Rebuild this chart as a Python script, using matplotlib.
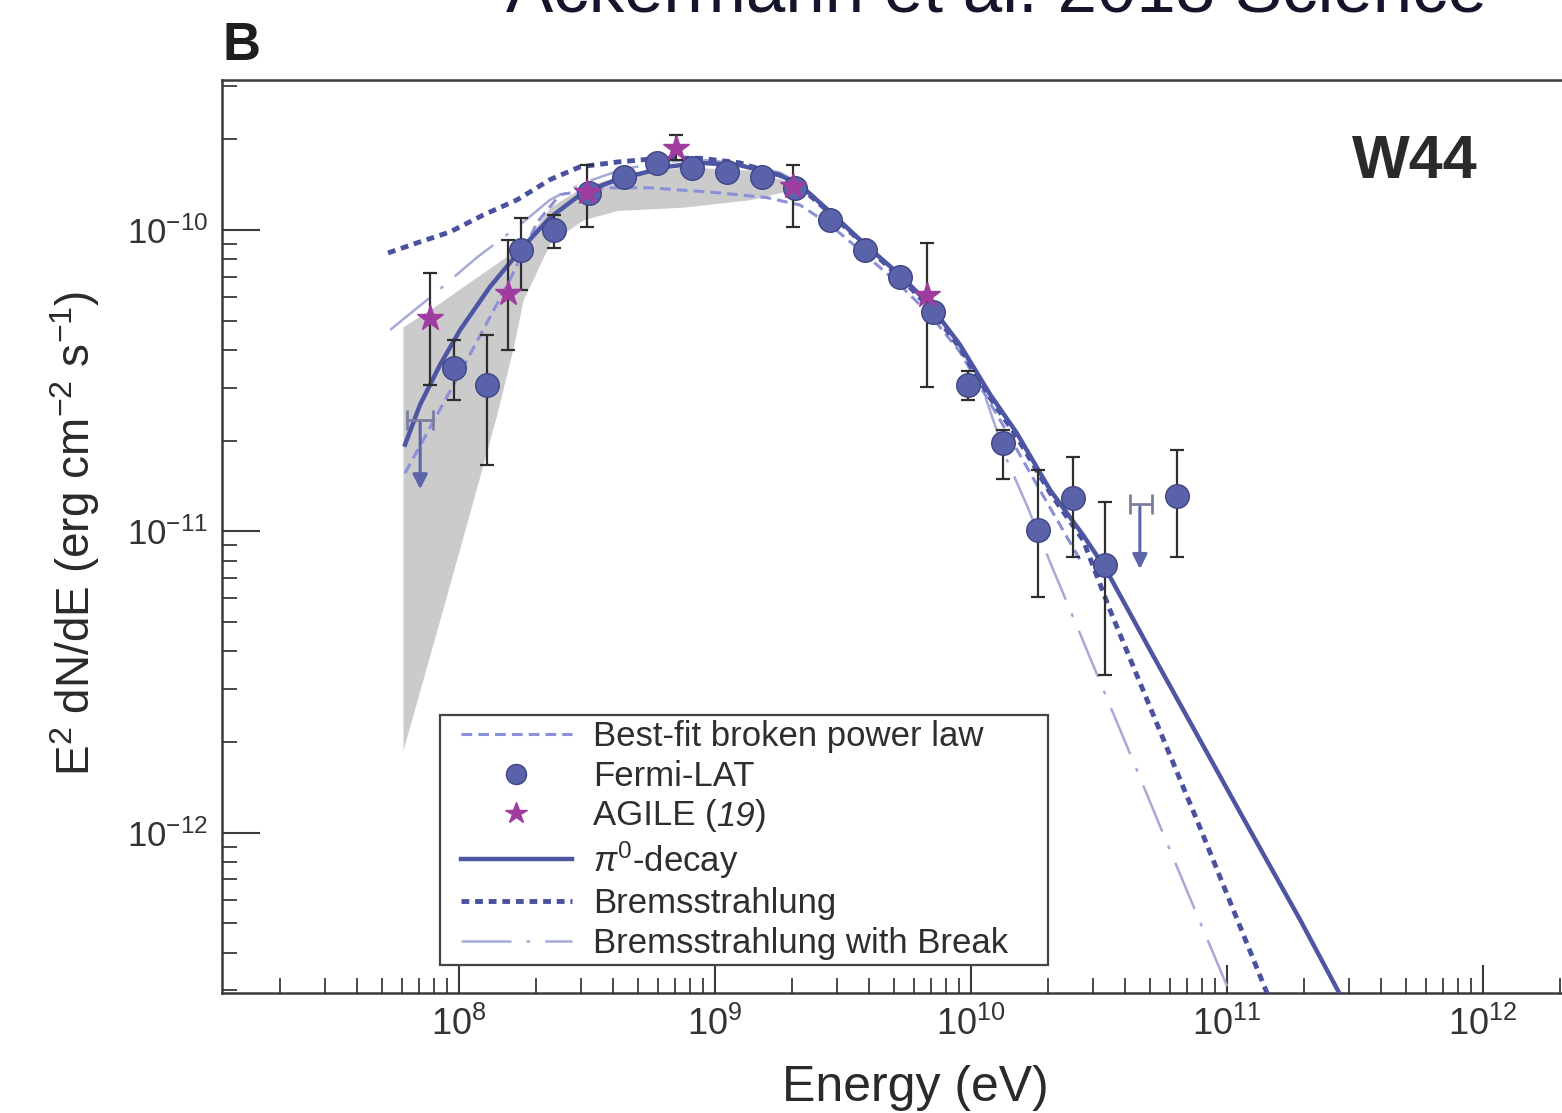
import numpy as np
import matplotlib.pyplot as plt
from matplotlib.ticker import FixedLocator, LogLocator, FuncFormatter, NullFormatter
from matplotlib.lines import Line2D
from matplotlib.legend_handler import HandlerLine2D

plt.rcParams['font.family'] = 'Liberation Sans'
plt.rcParams['mathtext.fontset'] = 'custom'
plt.rcParams['mathtext.rm'] = 'Liberation Sans'
plt.rcParams['mathtext.it'] = 'Liberation Sans:italic'
plt.rcParams['mathtext.bf'] = 'Liberation Sans:bold'
plt.rcParams['mathtext.default'] = 'regular'

# ---- Fermi-LAT flux points (E in eV, E^2 dN/dE in erg cm^-2 s^-1)
fermi_E = np.array([9.56e7, 1.29e8, 1.75e8, 2.35e8, 3.22e8, 4.41e8, 5.93e8, 8.13e8,
                    1.11e9, 1.53e9, 2.06e9, 2.81e9, 3.85e9, 5.28e9, 7.11e9, 9.73e9,
                    1.33e10, 1.83e10, 2.50e10, 3.33e10, 6.38e10])
fermi_F = np.array([3.48e-11, 3.06e-11, 8.59e-11, 1.00e-10, 1.33e-10, 1.50e-10, 1.67e-10, 1.61e-10,
                    1.56e-10, 1.50e-10, 1.38e-10, 1.08e-10, 8.59e-11, 6.99e-11, 5.34e-11, 3.06e-11,
                    1.97e-11, 1.01e-11, 1.29e-11, 7.75e-12, 1.31e-11])
fermi_lo = np.array([2.73e-11, 1.66e-11, 6.32e-11, 8.72e-11, 1.26e-10, 1.43e-10, 1.60e-10, 1.54e-10,
                     1.49e-10, 1.43e-10, 1.31e-10, 1.03e-10, 8.20e-11, 6.65e-11, 5.05e-11, 2.73e-11,
                     1.49e-11, 6.07e-12, 8.22e-12, 3.34e-12, 8.22e-12])
fermi_hi = np.array([4.32e-11, 4.49e-11, 1.10e-10, 1.12e-10, 1.40e-10, 1.57e-10, 1.74e-10, 1.68e-10,
                     1.63e-10, 1.57e-10, 1.45e-10, 1.13e-10, 8.98e-11, 7.33e-11, 5.63e-11, 3.40e-11,
                     2.17e-11, 1.60e-11, 1.77e-11, 1.25e-11, 1.86e-11])

# Fermi-LAT upper limits
ul_E = np.array([7.05e7, 4.57e10])
ul_Elo = np.array([6.27e7, 4.18e10])
ul_Ehi = np.array([7.91e7, 5.09e10])
ul_F = np.array([2.34e-11, 1.23e-11])
ul_Fend = np.array([1.35e-11, 7.34e-12])

# ---- AGILE points
agile_E = np.array([7.71e7, 1.55e8, 3.16e8, 7.04e8, 2.02e9, 6.73e9])
agile_F = np.array([5.11e-11, 6.18e-11, 1.34e-10, 1.87e-10, 1.40e-10, 6.08e-11])
agile_lo = np.array([3.06e-11, 4.00e-11, 1.02e-10, 1.71e-10, 1.02e-10, 3.01e-11])
agile_hi = np.array([7.20e-11, 9.27e-11, 1.64e-10, 2.07e-10, 1.64e-10, 9.06e-11])

# ---- systematic band
band_E = np.array([6.04e7, 8.2e7, 1.10e8, 1.41e8, 1.63e8, 1.78e8, 2.27e8, 3.05e8,
                   4.14e8, 7.5e8, 1.37e9, 2.15e9])
band_lo = np.array([1.88e-12, 4.71e-12, 1.15e-11, 2.47e-11, 4.09e-11, 5.86e-11, 9.06e-11, 1.08e-10,
                    1.16e-10, 1.19e-10, 1.26e-10, 1.38e-10])
band_hi = np.array([4.77e-11, 5.64e-11, 6.72e-11, 7.78e-11, 8.45e-11, 8.92e-11, 1.19e-10, 1.39e-10,
                    1.50e-10, 1.62e-10, 1.58e-10, 1.41e-10])

# ---- model curves
pi0_E = np.array([6.15e7, 7.04e7, 8.43e7, 1.01e8, 1.32e8, 1.78e8, 2.27e8, 3.05e8, 4.14e8,
                  6.49e8, 8.74e8, 1.25e9, 1.79e9, 2.15e9, 2.81e9, 3.68e9, 5.28e9, 6.92e9,
                  9.06e9, 1.19e10, 1.51e10, 2.04e10, 2.74e10, 3.34e10, 5.0e10, 7.85e10,
                  1.23e11, 1.93e11, 2.89e11])
pi0_F = np.array([1.94e-11, 2.63e-11, 3.57e-11, 4.66e-11, 6.47e-11, 8.79e-11, 1.10e-10, 1.33e-10,
                  1.47e-10, 1.62e-10, 1.67e-10, 1.64e-10, 1.52e-10, 1.41e-10, 1.15e-10, 9.27e-11,
                  7.09e-11, 5.64e-11, 4.16e-11, 2.84e-11, 2.12e-11, 1.37e-11, 9.73e-12, 7.57e-12,
                  4.05e-12, 2.03e-12, 1.02e-12, 5.15e-13, 2.71e-13])

brems_E = np.array([5.28e7, 6.85e7, 9.22e7, 1.24e8, 1.69e8, 2.27e8, 2.97e8, 4.14e8, 6.1e8,
                    8.74e8, 1.25e9, 1.79e9, 2.15e9, 2.81e9, 3.68e9, 5.28e9, 6.92e9, 9.06e9,
                    1.19e10, 1.51e10, 2.04e10, 2.74e10, 3.49e10, 5.0e10, 7.85e10, 1.47e11])
brems_F = np.array([8.39e-11, 9.06e-11, 9.85e-11, 1.12e-10, 1.26e-10, 1.47e-10, 1.62e-10, 1.68e-10,
                    1.73e-10, 1.73e-10, 1.67e-10, 1.52e-10, 1.39e-10, 1.14e-10, 9.2e-11, 6.98e-11,
                    5.51e-11, 4.06e-11, 2.77e-11, 2.06e-11, 1.34e-11, 9.37e-12, 5.49e-12, 2.62e-12,
                    1.04e-12, 2.79e-13])

brk_E = np.array([5.38e7, 7.5e7, 1.18e8, 1.73e8, 2.27e8, 3.05e8, 4.26e8, 6.1e8, 8.74e8,
                  1.25e9, 1.79e9, 2.15e9, 2.81e9, 3.68e9, 5.28e9, 6.92e9, 9.06e9, 1.13e10,
                  1.38e10, 1.66e10, 2.09e10, 2.67e10, 3.28e10, 4.3e10, 5.83e10, 7.17e10,
                  8.59e10, 1.07e11])
brk_F = np.array([4.66e-11, 5.86e-11, 8.13e-11, 1.04e-10, 1.26e-10, 1.43e-10, 1.58e-10, 1.68e-10,
                  1.71e-10, 1.67e-10, 1.55e-10, 1.43e-10, 1.16e-10, 9.4e-11, 7.09e-11, 5.56e-11,
                  4.16e-11, 2.84e-11, 1.73e-11, 1.21e-11, 7.5e-12, 4.57e-12, 3.0e-12, 1.73e-12,
                  9.26e-13, 6.08e-13, 4.22e-13, 2.71e-13])

bpl_E = np.array([6.15e7, 1.01e8, 1.58e8, 2.02e8, 2.48e8, 3.56e8, 5.57e8, 1.02e9, 1.6e9,
                  2.15e9, 2.81e9, 3.68e9, 5.28e9, 6.92e9, 9.06e9, 1.3e10, 1.86e10, 2.67e10])
bpl_F = np.array([1.56e-11, 3.36e-11, 6.83e-11, 1.06e-10, 1.31e-10, 1.38e-10, 1.38e-10, 1.33e-10,
                  1.28e-10, 1.21e-10, 1.04e-10, 8.59e-11, 6.57e-11, 5.23e-11, 3.94e-11, 2.34e-11,
                  1.37e-11, 8.04e-12])

x_major = [1e8, 1e9, 1e10, 1e11, 1e12]
y_major = [1e-12, 1e-11, 1e-10]

# the AGILE entry gets its reference number in italics, added after the legend is built
legend_labels = ['Best-fit broken power law', 'Fermi-LAT', 'AGILE (',
                 r'$\mathit{\pi}^{0}$-decay', 'Bremsstrahlung', 'Bremsstrahlung with Break']
agile_ref = '19'

c_dark = '#4d56a3'
c_dot = '#4a52a0'
c_light = '#8b91d6'
c_brk = '#a6abd6'
c_fermi = '#5a62aa'
c_agile = '#a03c9f'
c_err = '#2e2e2e'

fig = plt.figure(figsize=(15.62, 11.13), dpi=100)
ax = fig.add_axes([222 / 1562, 120 / 1113, 1 - 222 / 1562, 913 / 1113])

ax.set_xscale('log')
ax.set_yscale('log')
ax.set_xlim(10 ** 7.074, 10 ** 12.309)
ax.set_ylim(2.94e-13, 3.145e-10)

ax.fill_between(band_E, band_lo, band_hi, color='#cbcbcb', lw=0, zorder=1)

l_bpl, = ax.plot(bpl_E, bpl_F, color=c_light, lw=2.2, dashes=(3.5, 2), zorder=2)
l_brk, = ax.plot(brk_E, brk_F, color=c_brk, lw=1.8, dashes=(20, 6, 1.5, 6), zorder=2)
l_brems, = ax.plot(brems_E, brems_F, color=c_dot, lw=3.5, dashes=(1.6, 1.2), zorder=3)
l_pi0, = ax.plot(pi0_E, pi0_F, color=c_dark, lw=3.2, zorder=3)

# error bars
ax.errorbar(fermi_E, fermi_F, yerr=[fermi_F - fermi_lo, fermi_hi - fermi_F], fmt='none',
            ecolor=c_err, elinewidth=1.6, capsize=5, capthick=1.6, zorder=4)
ax.errorbar(agile_E, agile_F, yerr=[agile_F - agile_lo, agile_hi - agile_F], fmt='none',
            ecolor=c_err, elinewidth=1.6, capsize=5, capthick=1.6, zorder=4)

# upper limits
ax.errorbar(ul_E, ul_F, xerr=[ul_E - ul_Elo, ul_Ehi - ul_E], fmt='none',
            ecolor='#7c7f9c', elinewidth=2, capsize=7, capthick=2, zorder=4)
for e, f0, f1 in zip(ul_E, ul_F, ul_Fend):
    ax.annotate('', xy=(e, f1), xytext=(e, f0),
                arrowprops=dict(arrowstyle='-|>', color='#5d64a8', lw=2.2, mutation_scale=22),
                zorder=4)

m_fermi, = ax.plot(fermi_E, fermi_F, 'o', ms=17, mfc=c_fermi, mec='#3f4584', mew=1, ls='none', zorder=5)
m_agile, = ax.plot(agile_E, agile_F, '*', ms=19, mfc=c_agile, mec=c_agile, ls='none', zorder=6)

# axes styling
for side in ['left', 'bottom', 'top']:
    ax.spines[side].set_linewidth(1.8)
    ax.spines[side].set_color('#3a3a3a')
ax.spines['right'].set_visible(False)

dec_fmt = FuncFormatter(lambda v, p: r'$10^{%d}$' % int(round(np.log10(v))))
ax.xaxis.set_major_locator(FixedLocator(x_major))
ax.yaxis.set_major_locator(FixedLocator(y_major))
for axis in [ax.xaxis, ax.yaxis]:
    axis.set_minor_locator(LogLocator(base=10, subs=np.arange(2, 10), numticks=20))
    axis.set_major_formatter(dec_fmt)
    axis.set_minor_formatter(NullFormatter())

ax.tick_params(which='both', direction='in', color='#3a3a3a', labelcolor='#333333',
               top=False, right=False)
ax.tick_params(axis='x', which='major', length=20, width=1.5, labelsize=26, pad=10)
ax.tick_params(axis='y', which='major', length=27, width=1.5, labelsize=25, pad=10)
ax.tick_params(which='minor', length=11, width=1.3)

ax.text(0.890, 0.8927, 'W44', transform=ax.transAxes, ha='center', va='baseline',
        fontsize=44, fontweight='bold', color='#2a2a2a')

leg = ax.legend([l_bpl, m_fermi, m_agile, l_pi0, l_brems, l_brk], legend_labels,
                loc='lower left', mode='expand',
                bbox_to_anchor=((440 - 222) / 1340, (993 - 965) / 913, (1048 - 440) / 1340, 0.3),
                borderaxespad=0, fontsize=25, frameon=True, fancybox=False, framealpha=1,
                edgecolor='#444444', handlelength=3.65, handletextpad=0.6,
                labelspacing=0.19, borderpad=0.15, markerscale=0.85,
                handler_map={Line2D: HandlerLine2D(xpad=0.45)})
leg.get_frame().set_linewidth(1.6)
for t in leg.get_texts():
    t.set_color('#2e2e2e')

# italic "19)" appended right after "AGILE (" inside the legend
t_ref = ax.annotate(agile_ref, xy=(1, 0), xycoords=leg.get_texts()[2], ha='left', va='bottom',
                    fontsize=25, fontstyle='italic', color='#2e2e2e', zorder=10)
ax.annotate(')', xy=(1, 0), xycoords=t_ref, ha='left', va='bottom',
            fontsize=25, color='#2e2e2e', zorder=11)

fig.text(915 / 1562, (1113 - 1101) / 1113, 'Energy (eV)', ha='center', va='baseline',
         fontsize=36, color='#2a2a2a')
fig.text(75 / 1562, (1113 - 533) / 1113, r'E$^2$ dN/dE (erg cm$^{-2}$ s$^{-1}$)', rotation=90,
         ha='center', va='center', fontsize=33, color='#2a2a2a')
fig.text(222 / 1562, (1113 - 60) / 1113, 'B', ha='left', va='baseline',
         fontsize=38, fontweight='bold', color='#1e1e1e')
fig.text(996 / 1562, (1113 - 12) / 1113, 'Ackermann et al. 2013 Science', ha='center',
         va='baseline', fontsize=51, color='#14142b')

fig.savefig('out.png', dpi=100)
